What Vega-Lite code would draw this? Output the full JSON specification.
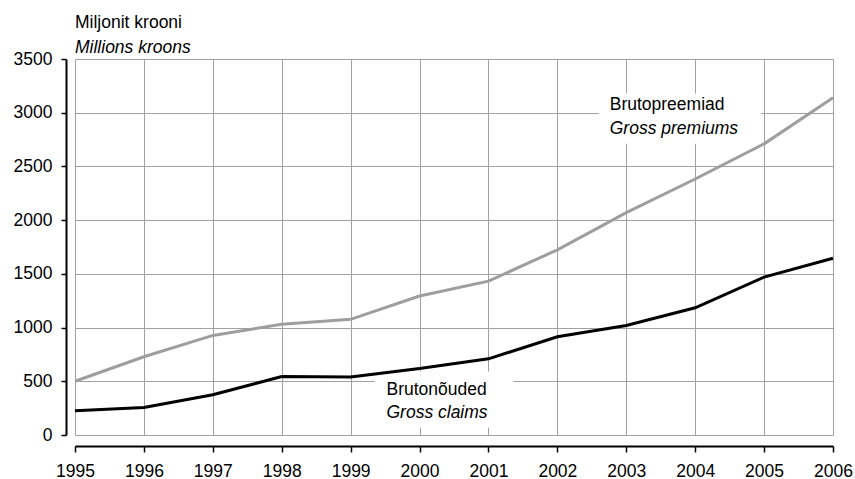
{
  "$schema": "https://vega.github.io/schema/vega-lite/v6.json",
  "width": 758,
  "height": 376,
  "autosize": {"type": "none"},
  "padding": {"left": 75, "top": 59, "right": 22, "bottom": 44},
  "background": "white",
  "config": {
    "view": {"stroke": null},
    "font": "Liberation Sans",
    "axis": {
      "labelFont": "Liberation Sans",
      "labelFontSize": 17.5,
      "labelColor": "black",
      "domainColor": "black",
      "domainWidth": 2,
      "tickColor": "black",
      "tickWidth": 1.5,
      "gridColor": "#a0a0a0",
      "gridWidth": 1,
      "gridOpacity": 1,
      "title": null
    }
  },
  "title": {
    "text": "Miljonit krooni",
    "subtitle": "Millions kroons",
    "anchor": "start",
    "frame": "group",
    "font": "Liberation Sans",
    "fontSize": 17.5,
    "fontWeight": "normal",
    "color": "black",
    "subtitleFont": "Liberation Sans",
    "subtitleFontSize": 17.5,
    "subtitleFontStyle": "italic",
    "subtitleColor": "black",
    "subtitlePadding": 7.5,
    "offset": -6
  },
  "data": {
    "values": [
      {"year": 1995, "series": "Brutopreemiad", "value": 500},
      {"year": 1996, "series": "Brutopreemiad", "value": 728},
      {"year": 1997, "series": "Brutopreemiad", "value": 927},
      {"year": 1998, "series": "Brutopreemiad", "value": 1030},
      {"year": 1999, "series": "Brutopreemiad", "value": 1077},
      {"year": 2000, "series": "Brutopreemiad", "value": 1294},
      {"year": 2001, "series": "Brutopreemiad", "value": 1432},
      {"year": 2002, "series": "Brutopreemiad", "value": 1724},
      {"year": 2003, "series": "Brutopreemiad", "value": 2070},
      {"year": 2004, "series": "Brutopreemiad", "value": 2383},
      {"year": 2005, "series": "Brutopreemiad", "value": 2710},
      {"year": 2006, "series": "Brutopreemiad", "value": 3140},
      {"year": 1995, "series": "Brutonõuded", "value": 225},
      {"year": 1996, "series": "Brutonõuded", "value": 257},
      {"year": 1997, "series": "Brutonõuded", "value": 375},
      {"year": 1998, "series": "Brutonõuded", "value": 544},
      {"year": 1999, "series": "Brutonõuded", "value": 541},
      {"year": 2000, "series": "Brutonõuded", "value": 618},
      {"year": 2001, "series": "Brutonõuded", "value": 709},
      {"year": 2002, "series": "Brutonõuded", "value": 915},
      {"year": 2003, "series": "Brutonõuded", "value": 1020},
      {"year": 2004, "series": "Brutonõuded", "value": 1184},
      {"year": 2005, "series": "Brutonõuded", "value": 1470},
      {"year": 2006, "series": "Brutonõuded", "value": 1645}
    ]
  },
  "layer": [
    {
      "data": {"values": [{}]},
      "mark": {"type": "rect", "color": "white"},
      "encoding": {
        "x": {"datum": 2002.6, "type": "quantitative", "scale": {"domain": [1995, 2006], "nice": false, "zero": false}, "axis": {"values": [1995,1996,1997,1998,1999,2000,2001,2002,2003,2004,2005,2006], "format": "d", "offset": 11, "tickSize": 6, "labelPadding": 10, "grid": true, "labelFlush": false}},
        "x2": {"datum": 2004.955},
        "y": {"datum": 3180, "type": "quantitative", "scale": {"domain": [0, 3500], "nice": false}, "axis": {"values": [0,500,1000,1500,2000,2500,3000,3500], "format": "d", "offset": 9, "tickSize": 5, "labelPadding": 9, "grid": true}},
        "y2": {"datum": 2712}
      }
    },
    {
      "data": {"values": [{}]},
      "mark": {"type": "rect", "color": "white"},
      "encoding": {
        "x": {"datum": 1999.35, "type": "quantitative"},
        "x2": {"datum": 2001.36},
        "y": {"datum": 590, "type": "quantitative"},
        "y2": {"datum": 67}
      }
    },
    {
      "mark": {"type": "line", "strokeWidth": 3},
      "encoding": {
        "x": {"field": "year", "type": "quantitative"},
        "y": {"field": "value", "type": "quantitative"},
        "color": {"field": "series", "type": "nominal", "scale": {"domain": ["Brutopreemiad", "Brutonõuded"], "range": ["#9e9e9e", "#000000"]}, "legend": null}
      }
    },
    {
      "data": {"values": [{}]},
      "mark": {"type": "text", "align": "left", "baseline": "middle", "fontSize": 17.5, "font": "Liberation Sans", "color": "black"},
      "encoding": {
        "x": {"datum": 2002.76, "type": "quantitative"},
        "y": {"datum": 3070, "type": "quantitative"},
        "text": {"value": "Brutopreemiad"}
      }
    },
    {
      "data": {"values": [{}]},
      "mark": {"type": "text", "align": "left", "baseline": "middle", "fontSize": 17.5, "font": "Liberation Sans", "fontStyle": "italic", "color": "black"},
      "encoding": {
        "x": {"datum": 2002.76, "type": "quantitative"},
        "y": {"datum": 2846, "type": "quantitative"},
        "text": {"value": "Gross premiums"}
      }
    },
    {
      "data": {"values": [{}]},
      "mark": {"type": "text", "align": "left", "baseline": "middle", "fontSize": 17.5, "font": "Liberation Sans", "color": "black"},
      "encoding": {
        "x": {"datum": 1999.52, "type": "quantitative"},
        "y": {"datum": 422, "type": "quantitative"},
        "text": {"value": "Brutonõuded"}
      }
    },
    {
      "data": {"values": [{}]},
      "mark": {"type": "text", "align": "left", "baseline": "middle", "fontSize": 17.5, "font": "Liberation Sans", "fontStyle": "italic", "color": "black"},
      "encoding": {
        "x": {"datum": 1999.52, "type": "quantitative"},
        "y": {"datum": 208, "type": "quantitative"},
        "text": {"value": "Gross claims"}
      }
    }
  ]
}
